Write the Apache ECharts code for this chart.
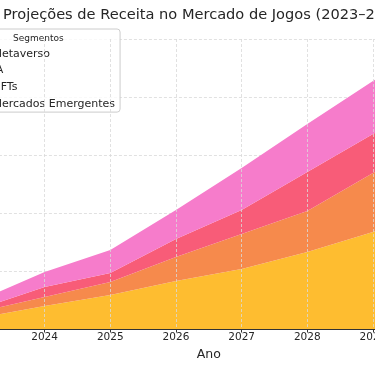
<!DOCTYPE html>
<html>
<head>
<meta charset="utf-8">
<script src="https://cdn.jsdelivr.net/npm/echarts@6/dist/echarts.min.js"></script>
<style>
html,body{margin:0;padding:0;width:375px;height:366px;overflow:hidden;background:#fff;}
#c{position:absolute;left:-80px;top:0;width:535px;height:366px;}
</style>
</head>
<body>
<div id="c"></div>
<script>
const years = ['2023','2024','2025','2026','2027','2028','2029','2030'];
const metaverso = [9.5, 19.8, 29.3, 41.4, 51.7, 66.4, 83.6, 104];
const ia = [5.2, 7.8, 11.2, 20.7, 30.2, 35.3, 50.9, 58];
const nfts = [2.5, 8.6, 7.8, 15.5, 20.7, 33.6, 33.6, 38];
const mercados = [7.4, 12.9, 19.8, 25.0, 36.2, 41.4, 45.7, 50];
const seriesNames = ['Metaverso', 'IA', 'NFTs', 'Mercados Emergentes'];
const seriesColors = ['#FEBD30', '#F68A4C', '#F85C78', '#F67CCB'];
const titleText = 'Projeções de Receita no Mercado de Jogos (2023–2030)';
const legendTitle = 'Segmentos';
const xName = 'Ano';
const yName = 'Receita';

const FONT = 'DejaVu Sans';
const chart = echarts.init(document.getElementById('c'), null, {renderer: 'canvas'});
const values = [metaverso, ia, nfts, mercados];

const option = {
  animation: false,
  textStyle: {fontFamily: FONT},
  title: {
    text: titleText,
    left: 78,
    top: 3,
    textStyle: {fontFamily: FONT, fontSize: 14.6, fontWeight: 'normal', color: '#262626'}
  },
  grid: {left: 53, right: 14, top: 39, bottom: 37, containLabel: false},
  legend: {
    orient: 'vertical',
    left: 42.5,
    top: 29,
    data: seriesNames,
    icon: 'rect',
    itemWidth: 20,
    itemHeight: 8,
    itemGap: 2.7,
    itemTextGap: 5,
    itemStyle: {borderWidth: 0},
    padding: [17.7, 5, 1.3, 5],
    backgroundColor: 'rgba(255,255,255,0.8)',
    borderColor: '#cccccc',
    borderWidth: 1,
    borderRadius: 3,
    textStyle: {fontFamily: FONT, fontSize: 11, color: '#262626', lineHeight: 14}
  },
  graphic: [{
    type: 'text',
    left: 118 - 25,
    top: 34,
    z: 100,
    style: {text: legendTitle, fontFamily: FONT, fontSize: 9, fill: '#262626'}
  }],
  xAxis: {
    type: 'category',
    data: years,
    boundaryGap: false,
    name: xName,
    nameLocation: 'middle',
    nameGap: 12,
    nameTextStyle: {fontFamily: FONT, fontSize: 12.5, color: '#262626'},
    axisLine: {show: true, lineStyle: {color: '#333333', width: 1}},
    axisTick: {show: true, length: 3.5, interval: 0, lineStyle: {color: '#333333', width: 1}},
    axisLabel: {interval: 0, margin: 3, fontFamily: FONT, fontSize: 10.5, color: '#262626'},
    splitLine: {show: true, interval: 0, lineStyle: {color: '#d9d9d9', width: 0.8, type: [3, 2]}},
    z: 5
  },
  yAxis: {
    type: 'value',
    min: 0,
    max: 250,
    interval: 50,
    name: yName,
    nameLocation: 'middle',
    nameGap: 35,
    axisLine: {show: false},
    axisTick: {show: false},
    axisLabel: {fontFamily: FONT, fontSize: 10.5, color: '#262626'},
    splitLine: {show: true, lineStyle: {color: '#d9d9d9', width: 0.8, type: [3, 2]}}
  },
  series: seriesNames.map((n, i) => ({
    name: n,
    type: 'line',
    stack: 'total',
    data: values[i],
    showSymbol: false,
    symbol: 'none',
    smooth: false,
    lineStyle: {width: 0, color: seriesColors[i]},
    itemStyle: {color: seriesColors[i]},
    areaStyle: {color: seriesColors[i], opacity: 1},
    emphasis: {disabled: true},
    z: 2
  }))
};
chart.setOption(option);
</script>
</body>
</html>
